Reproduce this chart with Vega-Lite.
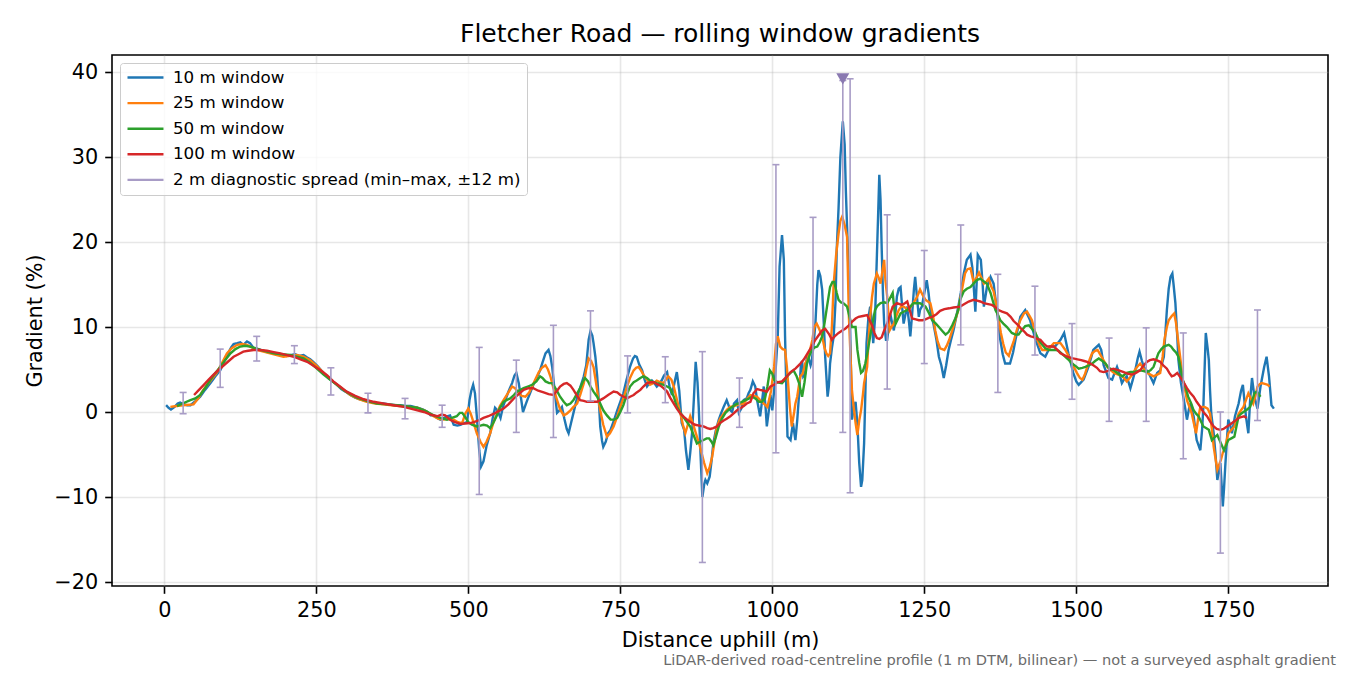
{
  "$schema": "https://vega.github.io/schema/vega-lite/v6.json",
  "width": 1216,
  "height": 531,
  "autosize": {"type": "none"},
  "padding": {"left": 112, "top": 55, "right": 22, "bottom": 89},
  "background": "#ffffff",
  "config": {
    "font": "DejaVu Sans",
    "view": {"stroke": "#000000", "strokeWidth": 1.6},
    "axis": {"domain": false, "grid": true, "gridColor": "#b0b0b0", "gridOpacity": 0.3, "gridWidth": 1.6, "tickColor": "#000000", "tickSize": 7.3, "tickWidth": 1.6, "labelFont": "DejaVu Sans", "labelFontSize": 20.8, "labelColor": "#000000", "labelPadding": 7, "titleFont": "DejaVu Sans", "titleFontSize": 20.8, "titleFontWeight": "normal", "titleColor": "#000000"}
  },
  "title": {"text": "Fletcher Road — rolling window gradients", "fontSize": 25, "fontWeight": "normal", "font": "DejaVu Sans", "color": "#000000", "anchor": "middle", "frame": "group", "offset": 12.5, "baseline": "alphabetic", "dy": 24},
  "datasets": {
    "w10": [{"d":3,"g":0.8},{"d":7,"g":0.5},{"d":11,"g":0.3},{"d":17,"g":0.6},{"d":22,"g":1.0},{"d":26,"g":1.1},{"d":32,"g":0.9},{"d":38,"g":0.8},{"d":43,"g":0.8},{"d":50,"g":1.2},{"d":59,"g":1.8},{"d":67,"g":2.6},{"d":76,"g":3.4},{"d":84,"g":4.2},{"d":92,"g":4.9},{"d":99,"g":6.0},{"d":105,"g":6.9},{"d":110,"g":7.6},{"d":114,"g":8.0},{"d":120,"g":8.1},{"d":125,"g":8.2},{"d":130,"g":7.9},{"d":136,"g":8.3},{"d":141,"g":8.1},{"d":147,"g":7.5},{"d":155,"g":7.4},{"d":163,"g":7.2},{"d":172,"g":7.0},{"d":180,"g":6.9},{"d":187,"g":6.8},{"d":195,"g":6.7},{"d":201,"g":6.6},{"d":207,"g":6.7},{"d":215,"g":6.8},{"d":222,"g":6.6},{"d":229,"g":6.7},{"d":235,"g":6.4},{"d":240,"g":6.2},{"d":245,"g":5.9},{"d":252,"g":5.4},{"d":258,"g":4.9},{"d":262,"g":4.6},{"d":270,"g":4.0},{"d":277,"g":3.6},{"d":284,"g":3.2},{"d":291,"g":2.7},{"d":298,"g":2.4},{"d":306,"g":2.0},{"d":314,"g":1.7},{"d":322,"g":1.5},{"d":333,"g":1.3},{"d":342,"g":1.2},{"d":350,"g":1.0},{"d":360,"g":1.0},{"d":370,"g":0.9},{"d":380,"g":0.8},{"d":388,"g":0.8},{"d":396,"g":0.7},{"d":405,"g":0.7},{"d":416,"g":0.5},{"d":425,"g":0.3},{"d":433,"g":0.0},{"d":438,"g":-0.4},{"d":443,"g":-0.4},{"d":449,"g":-0.7},{"d":454,"g":-0.9},{"d":460,"g":-0.7},{"d":465,"g":-0.5},{"d":470,"g":-0.4},{"d":476,"g":-1.5},{"d":482,"g":-1.6},{"d":487,"g":-1.5},{"d":493,"g":-1.3},{"d":498,"g":-1.2},{"d":502,"g":1.4},{"d":505,"g":2.5},{"d":508,"g":3.2},{"d":511,"g":2.2},{"d":514,"g":-0.5},{"d":518,"g":-4.5},{"d":521,"g":-6.4},{"d":525,"g":-5.8},{"d":530,"g":-4.0},{"d":536,"g":-2.5},{"d":540,"g":-0.8},{"d":544,"g":0.5},{"d":548,"g":0.2},{"d":553,"g":-0.7},{"d":557,"g":0.6},{"d":561,"g":1.4},{"d":566,"g":2.4},{"d":572,"g":3.4},{"d":576,"g":4.3},{"d":579,"g":4.6},{"d":583,"g":3.4},{"d":587,"g":1.5},{"d":590,"g":0.0},{"d":594,"g":0.8},{"d":597,"g":1.4},{"d":602,"g":2.3},{"d":607,"g":3.2},{"d":612,"g":3.9},{"d":618,"g":4.9},{"d":622,"g":5.8},{"d":627,"g":6.9},{"d":632,"g":7.3},{"d":635,"g":6.6},{"d":638,"g":5.3},{"d":642,"g":2.5},{"d":646,"g":-0.1},{"d":650,"g":0.2},{"d":654,"g":0.6},{"d":658,"g":-0.8},{"d":662,"g":-2.0},{"d":665,"g":-2.5},{"d":669,"g":-1.3},{"d":673,"g":-0.1},{"d":677,"g":1.1},{"d":681,"g":2.2},{"d":686,"g":3.3},{"d":690,"g":4.2},{"d":694,"g":5.5},{"d":698,"g":8.5},{"d":701,"g":9.5},{"d":704,"g":9.0},{"d":706,"g":8.1},{"d":709,"g":6.5},{"d":712,"g":4.2},{"d":715,"g":1.0},{"d":717,"g":-1.7},{"d":720,"g":-3.4},{"d":722,"g":-4.1},{"d":726,"g":-3.5},{"d":730,"g":-2.5},{"d":734,"g":-2.1},{"d":740,"g":-0.9},{"d":745,"g":0.2},{"d":750,"g":1.2},{"d":755,"g":2.2},{"d":760,"g":3.7},{"d":766,"g":5.3},{"d":771,"g":6.3},{"d":774,"g":6.6},{"d":777,"g":6.5},{"d":781,"g":5.6},{"d":786,"g":4.9},{"d":790,"g":3.8},{"d":794,"g":3.0},{"d":798,"g":3.4},{"d":802,"g":3.7},{"d":806,"g":3.4},{"d":810,"g":3.0},{"d":814,"g":3.3},{"d":818,"g":3.7},{"d":822,"g":4.3},{"d":827,"g":4.7},{"d":831,"g":3.0},{"d":835,"g":2.0},{"d":839,"g":3.4},{"d":843,"g":4.7},{"d":847,"g":2.5},{"d":851,"g":-1.3},{"d":855,"g":-2.1},{"d":858,"g":-4.5},{"d":862,"g":-6.8},{"d":865,"g":-4.8},{"d":868,"g":-2.5},{"d":871,"g":1.5},{"d":874,"g":5.9},{"d":877,"g":3.5},{"d":879,"g":0.6},{"d":882,"g":-5.0},{"d":885,"g":-10.0},{"d":888,"g":-8.5},{"d":890,"g":-8.0},{"d":893,"g":-8.4},{"d":897,"g":-7.6},{"d":900,"g":-5.8},{"d":903,"g":-3.7},{"d":907,"g":-2.2},{"d":912,"g":-0.9},{"d":916,"g":-0.1},{"d":920,"g":0.6},{"d":925,"g":1.4},{"d":928,"g":0.8},{"d":931,"g":0.2},{"d":934,"g":0.0},{"d":937,"g":1.0},{"d":942,"g":1.4},{"d":945,"g":-0.1},{"d":949,"g":0.4},{"d":953,"g":1.4},{"d":958,"g":1.6},{"d":961,"g":2.2},{"d":964,"g":2.6},{"d":968,"g":3.6},{"d":972,"g":3.0},{"d":975,"g":1.4},{"d":980,"g":-0.5},{"d":983,"g":1.2},{"d":986,"g":3.0},{"d":989,"g":0.5},{"d":991,"g":-1.7},{"d":994,"g":0.0},{"d":997,"g":2.0},{"d":1000,"g":0.2},{"d":1003,"g":2.5},{"d":1006,"g":5.5},{"d":1009,"g":8.9},{"d":1012,"g":17.1},{"d":1016,"g":20.8},{"d":1019,"g":17.9},{"d":1021,"g":8.9},{"d":1025,"g":-2.9},{"d":1030,"g":-3.3},{"d":1034,"g":-1.3},{"d":1038,"g":-3.3},{"d":1041,"g":-1.0},{"d":1044,"g":2.0},{"d":1047,"g":5.5},{"d":1049,"g":6.0},{"d":1051,"g":4.2},{"d":1054,"g":4.5},{"d":1057,"g":6.5},{"d":1060,"g":6.3},{"d":1063,"g":5.5},{"d":1065,"g":6.0},{"d":1068,"g":8.0},{"d":1071,"g":10.5},{"d":1074,"g":15.0},{"d":1076,"g":16.7},{"d":1079,"g":16.0},{"d":1082,"g":14.4},{"d":1085,"g":10.0},{"d":1087,"g":6.5},{"d":1091,"g":1.8},{"d":1093,"g":3.0},{"d":1095,"g":5.7},{"d":1098,"g":7.5},{"d":1101,"g":8.9},{"d":1104,"g":13.0},{"d":1106,"g":19.1},{"d":1109,"g":24.0},{"d":1112,"g":30.0},{"d":1116,"g":34.2},{"d":1119,"g":31.5},{"d":1121,"g":26.0},{"d":1123,"g":21.8},{"d":1126,"g":15.0},{"d":1128,"g":10.0},{"d":1131,"g":-0.9},{"d":1134,"g":0.5},{"d":1137,"g":1.2},{"d":1140,"g":-1.5},{"d":1143,"g":-6.0},{"d":1146,"g":-8.8},{"d":1148,"g":-8.0},{"d":1151,"g":-3.7},{"d":1153,"g":2.0},{"d":1155,"g":8.1},{"d":1158,"g":11.0},{"d":1161,"g":12.4},{"d":1164,"g":10.5},{"d":1166,"g":8.1},{"d":1169,"g":11.0},{"d":1171,"g":15.9},{"d":1174,"g":23.0},{"d":1176,"g":27.9},{"d":1178,"g":25.0},{"d":1180,"g":19.1},{"d":1182,"g":14.0},{"d":1184,"g":10.4},{"d":1187,"g":8.5},{"d":1189,"g":8.5},{"d":1192,"g":10.5},{"d":1194,"g":11.6},{"d":1197,"g":10.5},{"d":1200,"g":9.6},{"d":1203,"g":12.0},{"d":1205,"g":13.6},{"d":1208,"g":14.5},{"d":1211,"g":14.7},{"d":1214,"g":12.0},{"d":1216,"g":10.4},{"d":1219,"g":11.5},{"d":1222,"g":12.4},{"d":1225,"g":10.5},{"d":1227,"g":8.9},{"d":1230,"g":11.5},{"d":1233,"g":14.5},{"d":1235,"g":15.9},{"d":1238,"g":13.5},{"d":1241,"g":11.2},{"d":1243,"g":12.0},{"d":1246,"g":12.4},{"d":1250,"g":14.0},{"d":1254,"g":15.5},{"d":1257,"g":14.0},{"d":1260,"g":12.0},{"d":1263,"g":11.0},{"d":1265,"g":10.4},{"d":1270,"g":8.5},{"d":1274,"g":6.5},{"d":1278,"g":5.5},{"d":1282,"g":4.0},{"d":1286,"g":5.5},{"d":1290,"g":7.3},{"d":1294,"g":8.5},{"d":1298,"g":9.6},{"d":1302,"g":11.0},{"d":1306,"g":12.4},{"d":1310,"g":14.0},{"d":1315,"g":16.3},{"d":1320,"g":17.9},{"d":1326,"g":18.5},{"d":1329,"g":17.0},{"d":1331,"g":15.1},{"d":1334,"g":11.8},{"d":1336,"g":15.0},{"d":1338,"g":18.5},{"d":1343,"g":17.9},{"d":1346,"g":15.0},{"d":1348,"g":12.4},{"d":1353,"g":14.7},{"d":1359,"g":15.9},{"d":1364,"g":15.1},{"d":1370,"g":11.6},{"d":1375,"g":8.5},{"d":1379,"g":6.8},{"d":1383,"g":5.7},{"d":1391,"g":5.7},{"d":1396,"g":7.0},{"d":1400,"g":8.5},{"d":1408,"g":11.2},{"d":1416,"g":12.0},{"d":1424,"g":10.8},{"d":1429,"g":9.5},{"d":1433,"g":8.5},{"d":1441,"g":6.9},{"d":1449,"g":6.5},{"d":1457,"g":7.7},{"d":1465,"g":7.7},{"d":1474,"g":8.5},{"d":1480,"g":9.3},{"d":1487,"g":6.9},{"d":1495,"g":4.6},{"d":1500,"g":3.6},{"d":1504,"g":3.2},{"d":1512,"g":3.8},{"d":1520,"g":5.3},{"d":1528,"g":7.3},{"d":1537,"g":7.9},{"d":1541,"g":7.3},{"d":1545,"g":5.5},{"d":1553,"g":4.0},{"d":1559,"g":3.8},{"d":1563,"g":4.6},{"d":1567,"g":5.3},{"d":1571,"g":4.5},{"d":1575,"g":3.4},{"d":1579,"g":3.9},{"d":1583,"g":4.2},{"d":1589,"g":2.8},{"d":1593,"g":3.8},{"d":1597,"g":4.9},{"d":1601,"g":6.3},{"d":1604,"g":7.1},{"d":1608,"g":6.0},{"d":1611,"g":5.3},{"d":1619,"g":4.6},{"d":1623,"g":4.0},{"d":1627,"g":3.4},{"d":1633,"g":4.6},{"d":1638,"g":4.9},{"d":1644,"g":6.5},{"d":1649,"g":12.0},{"d":1652,"g":14.5},{"d":1655,"g":15.9},{"d":1658,"g":16.3},{"d":1660,"g":15.0},{"d":1663,"g":12.8},{"d":1666,"g":9.0},{"d":1668,"g":6.1},{"d":1672,"g":3.5},{"d":1675,"g":2.2},{"d":1679,"g":0.5},{"d":1682,"g":-0.9},{"d":1687,"g":1.0},{"d":1693,"g":-0.5},{"d":1698,"g":-3.3},{"d":1704,"g":-4.5},{"d":1707,"g":-2.0},{"d":1709,"g":0.6},{"d":1713,"g":9.3},{"d":1716,"g":7.5},{"d":1718,"g":6.1},{"d":1720,"g":2.5},{"d":1722,"g":-0.2},{"d":1726,"g":-2.5},{"d":1729,"g":-5.0},{"d":1732,"g":-8.0},{"d":1735,"g":-6.8},{"d":1737,"g":-6.0},{"d":1739,"g":-8.5},{"d":1741,"g":-11.1},{"d":1743,"g":-9.0},{"d":1745,"g":-6.4},{"d":1748,"g":-3.0},{"d":1750,"g":-0.9},{"d":1753,"g":-1.5},{"d":1756,"g":-2.5},{"d":1761,"g":-0.5},{"d":1767,"g":1.0},{"d":1771,"g":2.5},{"d":1774,"g":3.2},{"d":1777,"g":1.0},{"d":1779,"g":-0.5},{"d":1783,"g":-2.5},{"d":1786,"g":1.5},{"d":1789,"g":4.0},{"d":1793,"g":1.8},{"d":1798,"g":0.4},{"d":1803,"g":3.0},{"d":1809,"g":5.3},{"d":1813,"g":6.5},{"d":1817,"g":4.2},{"d":1821,"g":0.8},{"d":1825,"g":0.4}],
    "w25": [{"d":10,"g":0.6},{"d":20,"g":0.7},{"d":31,"g":0.8},{"d":48,"g":0.9},{"d":56,"g":1.6},{"d":64,"g":2.6},{"d":75,"g":3.6},{"d":87,"g":4.7},{"d":95,"g":5.8},{"d":103,"g":6.9},{"d":111,"g":7.5},{"d":120,"g":7.9},{"d":128,"g":8.0},{"d":136,"g":7.9},{"d":144,"g":7.6},{"d":152,"g":7.3},{"d":163,"g":7.1},{"d":174,"g":6.9},{"d":185,"g":6.7},{"d":196,"g":6.5},{"d":207,"g":6.6},{"d":218,"g":6.7},{"d":229,"g":6.5},{"d":240,"g":6.1},{"d":251,"g":5.4},{"d":262,"g":4.6},{"d":273,"g":3.9},{"d":284,"g":3.2},{"d":295,"g":2.6},{"d":306,"g":2.0},{"d":320,"g":1.5},{"d":333,"g":1.2},{"d":347,"g":1.0},{"d":360,"g":0.9},{"d":374,"g":0.8},{"d":388,"g":0.7},{"d":402,"g":0.6},{"d":416,"g":0.5},{"d":430,"g":0.1},{"d":443,"g":-0.5},{"d":451,"g":-0.8},{"d":459,"g":-0.9},{"d":467,"g":-0.8},{"d":476,"g":-0.9},{"d":483,"g":-1.2},{"d":490,"g":-1.3},{"d":495,"g":-0.2},{"d":500,"g":0.4},{"d":504,"g":-0.2},{"d":509,"g":-1.3},{"d":514,"g":-2.5},{"d":520,"g":-3.5},{"d":525,"g":-4.1},{"d":530,"g":-3.5},{"d":536,"g":-2.5},{"d":541,"g":-1.3},{"d":547,"g":-0.2},{"d":552,"g":0.7},{"d":558,"g":1.4},{"d":565,"g":2.2},{"d":572,"g":3.0},{"d":577,"g":2.8},{"d":583,"g":2.2},{"d":588,"g":1.9},{"d":594,"g":1.8},{"d":600,"g":2.3},{"d":605,"g":3.0},{"d":610,"g":3.8},{"d":616,"g":4.7},{"d":621,"g":5.2},{"d":627,"g":5.5},{"d":631,"g":5.0},{"d":635,"g":4.2},{"d":640,"g":2.8},{"d":646,"g":1.4},{"d":651,"g":0.3},{"d":657,"g":-0.4},{"d":662,"g":-0.2},{"d":668,"g":0.2},{"d":673,"g":0.6},{"d":679,"g":1.0},{"d":684,"g":2.0},{"d":690,"g":3.4},{"d":694,"g":5.0},{"d":698,"g":6.3},{"d":702,"g":6.0},{"d":706,"g":5.3},{"d":710,"g":3.5},{"d":714,"g":1.5},{"d":717,"g":0.2},{"d":722,"g":-1.5},{"d":728,"g":-2.9},{"d":733,"g":-2.5},{"d":739,"g":-1.7},{"d":745,"g":-0.5},{"d":750,"g":0.6},{"d":756,"g":1.8},{"d":761,"g":3.0},{"d":766,"g":4.0},{"d":772,"g":4.9},{"d":776,"g":5.2},{"d":780,"g":5.3},{"d":784,"g":4.9},{"d":788,"g":4.4},{"d":794,"g":3.8},{"d":799,"g":3.2},{"d":805,"g":3.4},{"d":810,"g":3.7},{"d":816,"g":3.5},{"d":821,"g":3.4},{"d":825,"g":3.8},{"d":829,"g":4.2},{"d":834,"g":3.8},{"d":838,"g":3.0},{"d":843,"g":1.5},{"d":849,"g":-0.2},{"d":853,"g":-1.5},{"d":857,"g":-2.5},{"d":861,"g":-1.5},{"d":865,"g":-0.5},{"d":870,"g":-1.5},{"d":876,"g":-2.9},{"d":880,"g":-3.8},{"d":884,"g":-4.9},{"d":888,"g":-6.0},{"d":893,"g":-7.2},{"d":897,"g":-6.5},{"d":901,"g":-5.3},{"d":905,"g":-3.5},{"d":909,"g":-1.7},{"d":914,"g":-0.8},{"d":920,"g":-0.2},{"d":926,"g":0.3},{"d":931,"g":0.6},{"d":937,"g":0.7},{"d":942,"g":0.8},{"d":948,"g":0.9},{"d":953,"g":1.0},{"d":958,"g":1.5},{"d":964,"g":2.0},{"d":970,"g":1.9},{"d":975,"g":1.8},{"d":980,"g":1.4},{"d":986,"g":1.0},{"d":992,"g":0.6},{"d":998,"g":2.5},{"d":1003,"g":5.3},{"d":1006,"g":8.0},{"d":1009,"g":8.9},{"d":1013,"g":7.7},{"d":1017,"g":7.4},{"d":1021,"g":7.3},{"d":1024,"g":5.3},{"d":1026,"g":3.4},{"d":1029,"g":0.5},{"d":1032,"g":-1.7},{"d":1036,"g":0.0},{"d":1038,"g":1.0},{"d":1041,"g":1.8},{"d":1046,"g":4.2},{"d":1050,"g":4.5},{"d":1054,"g":5.7},{"d":1058,"g":6.2},{"d":1062,"g":7.3},{"d":1066,"g":8.5},{"d":1069,"g":10.0},{"d":1073,"g":10.4},{"d":1077,"g":9.8},{"d":1082,"g":8.9},{"d":1086,"g":7.5},{"d":1089,"g":6.9},{"d":1092,"g":6.6},{"d":1095,"g":6.9},{"d":1098,"g":10.0},{"d":1101,"g":15.1},{"d":1105,"g":18.5},{"d":1109,"g":21.0},{"d":1112,"g":22.5},{"d":1115,"g":23.0},{"d":1119,"g":22.0},{"d":1123,"g":20.6},{"d":1126,"g":11.2},{"d":1129,"g":6.0},{"d":1131,"g":2.6},{"d":1134,"g":0.5},{"d":1137,"g":-1.3},{"d":1140,"g":-2.7},{"d":1143,"g":-1.0},{"d":1146,"g":0.2},{"d":1149,"g":2.0},{"d":1151,"g":3.4},{"d":1156,"g":5.3},{"d":1158,"g":8.0},{"d":1161,"g":11.2},{"d":1164,"g":13.5},{"d":1167,"g":15.1},{"d":1172,"g":16.3},{"d":1175,"g":15.8},{"d":1178,"g":15.1},{"d":1181,"g":16.5},{"d":1184,"g":17.9},{"d":1186,"g":15.5},{"d":1189,"g":13.6},{"d":1193,"g":9.6},{"d":1196,"g":10.0},{"d":1200,"g":10.4},{"d":1204,"g":11.3},{"d":1208,"g":12.0},{"d":1212,"g":12.4},{"d":1216,"g":12.4},{"d":1220,"g":12.2},{"d":1224,"g":12.0},{"d":1228,"g":12.4},{"d":1232,"g":12.8},{"d":1238,"g":13.5},{"d":1243,"g":14.4},{"d":1247,"g":13.8},{"d":1252,"g":13.2},{"d":1256,"g":13.0},{"d":1260,"g":12.8},{"d":1264,"g":11.5},{"d":1268,"g":9.6},{"d":1272,"g":8.3},{"d":1276,"g":7.5},{"d":1283,"g":7.3},{"d":1287,"g":7.8},{"d":1291,"g":8.5},{"d":1296,"g":9.6},{"d":1301,"g":10.8},{"d":1306,"g":12.0},{"d":1309,"g":13.2},{"d":1313,"g":14.8},{"d":1317,"g":16.3},{"d":1321,"g":16.8},{"d":1326,"g":16.9},{"d":1331,"g":15.3},{"d":1336,"g":15.8},{"d":1340,"g":16.4},{"d":1344,"g":15.8},{"d":1348,"g":15.1},{"d":1352,"g":15.3},{"d":1356,"g":15.7},{"d":1360,"g":14.8},{"d":1364,"g":14.2},{"d":1368,"g":12.8},{"d":1372,"g":11.0},{"d":1376,"g":9.3},{"d":1380,"g":8.0},{"d":1384,"g":7.0},{"d":1389,"g":6.6},{"d":1393,"g":7.5},{"d":1397,"g":8.3},{"d":1402,"g":9.6},{"d":1408,"g":10.8},{"d":1414,"g":11.6},{"d":1419,"g":11.8},{"d":1424,"g":11.2},{"d":1427,"g":10.8},{"d":1432,"g":9.5},{"d":1436,"g":8.5},{"d":1440,"g":7.8},{"d":1444,"g":7.3},{"d":1452,"g":7.3},{"d":1458,"g":7.7},{"d":1463,"g":8.1},{"d":1469,"g":8.1},{"d":1474,"g":8.1},{"d":1482,"g":7.3},{"d":1491,"g":6.1},{"d":1496,"g":5.3},{"d":1501,"g":4.6},{"d":1506,"g":4.0},{"d":1510,"g":3.8},{"d":1514,"g":4.4},{"d":1518,"g":5.3},{"d":1522,"g":6.2},{"d":1526,"g":6.9},{"d":1531,"g":7.2},{"d":1535,"g":7.3},{"d":1539,"g":6.8},{"d":1543,"g":6.3},{"d":1551,"g":5.3},{"d":1557,"g":4.9},{"d":1562,"g":4.6},{"d":1569,"g":4.4},{"d":1576,"g":4.2},{"d":1583,"g":3.6},{"d":1589,"g":4.1},{"d":1594,"g":4.7},{"d":1600,"g":5.3},{"d":1605,"g":5.7},{"d":1611,"g":5.1},{"d":1616,"g":4.6},{"d":1622,"g":4.4},{"d":1627,"g":4.2},{"d":1633,"g":4.4},{"d":1638,"g":4.6},{"d":1642,"g":6.5},{"d":1645,"g":8.5},{"d":1649,"g":10.0},{"d":1652,"g":10.8},{"d":1657,"g":11.3},{"d":1661,"g":11.6},{"d":1664,"g":10.5},{"d":1668,"g":8.1},{"d":1672,"g":5.8},{"d":1675,"g":3.8},{"d":1679,"g":2.6},{"d":1682,"g":1.4},{"d":1686,"g":0.6},{"d":1690,"g":-0.2},{"d":1693,"g":-1.2},{"d":1697,"g":-2.5},{"d":1700,"g":-1.0},{"d":1704,"g":0.6},{"d":1711,"g":0.6},{"d":1716,"g":0.4},{"d":1720,"g":-0.2},{"d":1723,"g":-2.0},{"d":1726,"g":-4.1},{"d":1729,"g":-5.5},{"d":1732,"g":-6.8},{"d":1735,"g":-6.2},{"d":1738,"g":-5.6},{"d":1741,"g":-4.8},{"d":1745,"g":-4.1},{"d":1750,"g":-2.5},{"d":1755,"g":-2.1},{"d":1760,"g":-1.7},{"d":1764,"g":-0.9},{"d":1767,"g":-0.2},{"d":1771,"g":0.2},{"d":1775,"g":0.6},{"d":1779,"g":1.4},{"d":1783,"g":2.2},{"d":1787,"g":1.6},{"d":1791,"g":1.0},{"d":1795,"g":2.0},{"d":1798,"g":3.0},{"d":1802,"g":3.3},{"d":1805,"g":3.4},{"d":1810,"g":3.3},{"d":1815,"g":3.2},{"d":1818,"g":3.0}],
    "w50": [{"d":21,"g":0.7},{"d":30,"g":1.0},{"d":43,"g":1.4},{"d":51,"g":1.6},{"d":59,"g":2.0},{"d":67,"g":2.8},{"d":76,"g":3.8},{"d":84,"g":4.6},{"d":92,"g":5.3},{"d":100,"g":6.1},{"d":109,"g":6.9},{"d":117,"g":7.4},{"d":125,"g":7.7},{"d":133,"g":7.8},{"d":141,"g":7.7},{"d":150,"g":7.5},{"d":158,"g":7.3},{"d":169,"g":7.1},{"d":180,"g":6.9},{"d":193,"g":6.8},{"d":207,"g":6.7},{"d":218,"g":6.5},{"d":229,"g":6.3},{"d":240,"g":5.8},{"d":251,"g":5.1},{"d":262,"g":4.4},{"d":273,"g":3.8},{"d":284,"g":3.2},{"d":295,"g":2.6},{"d":306,"g":2.1},{"d":317,"g":1.7},{"d":333,"g":1.3},{"d":350,"g":1.0},{"d":366,"g":0.9},{"d":383,"g":0.8},{"d":400,"g":0.65},{"d":416,"g":0.5},{"d":430,"g":0.1},{"d":443,"g":-0.4},{"d":454,"g":-0.7},{"d":465,"g":-0.9},{"d":473,"g":-0.7},{"d":481,"g":-0.5},{"d":486,"g":-0.1},{"d":490,"g":-0.1},{"d":495,"g":-0.6},{"d":500,"g":-1.2},{"d":506,"g":-1.5},{"d":514,"g":-1.7},{"d":520,"g":-1.6},{"d":525,"g":-1.5},{"d":531,"g":-1.6},{"d":536,"g":-1.9},{"d":541,"g":-1.3},{"d":547,"g":-0.4},{"d":552,"g":0.5},{"d":558,"g":1.2},{"d":563,"g":1.4},{"d":569,"g":1.6},{"d":575,"g":2.0},{"d":580,"g":2.4},{"d":586,"g":2.6},{"d":591,"g":2.8},{"d":598,"g":3.0},{"d":605,"g":3.2},{"d":612,"g":3.6},{"d":618,"g":4.2},{"d":622,"g":4.0},{"d":627,"g":3.6},{"d":633,"g":3.4},{"d":638,"g":3.4},{"d":645,"g":2.6},{"d":651,"g":1.8},{"d":657,"g":1.2},{"d":662,"g":0.8},{"d":668,"g":1.0},{"d":673,"g":1.4},{"d":679,"g":2.2},{"d":684,"g":2.8},{"d":688,"g":3.5},{"d":692,"g":4.0},{"d":697,"g":3.6},{"d":701,"g":3.0},{"d":706,"g":2.4},{"d":712,"g":1.8},{"d":717,"g":1.0},{"d":722,"g":0.2},{"d":728,"g":-0.4},{"d":734,"g":-0.9},{"d":740,"g":-0.9},{"d":745,"g":-0.7},{"d":750,"g":0.0},{"d":755,"g":0.8},{"d":760,"g":1.9},{"d":766,"g":3.0},{"d":772,"g":3.5},{"d":777,"g":3.7},{"d":783,"g":4.0},{"d":788,"g":4.2},{"d":794,"g":4.0},{"d":799,"g":3.7},{"d":805,"g":3.5},{"d":810,"g":3.4},{"d":816,"g":3.3},{"d":821,"g":3.2},{"d":827,"g":3.0},{"d":832,"g":2.8},{"d":838,"g":1.8},{"d":843,"g":0.6},{"d":849,"g":-0.1},{"d":855,"g":-0.7},{"d":860,"g":-1.2},{"d":865,"g":-1.7},{"d":871,"g":-2.8},{"d":876,"g":-3.7},{"d":881,"g":-3.5},{"d":887,"g":-3.3},{"d":892,"g":-3.1},{"d":896,"g":-3.1},{"d":900,"g":-3.5},{"d":903,"g":-3.9},{"d":907,"g":-3.0},{"d":912,"g":-1.7},{"d":917,"g":-0.8},{"d":923,"g":-0.1},{"d":929,"g":0.3},{"d":934,"g":0.6},{"d":940,"g":0.9},{"d":945,"g":1.0},{"d":950,"g":1.2},{"d":956,"g":1.4},{"d":962,"g":1.6},{"d":967,"g":1.8},{"d":972,"g":1.6},{"d":978,"g":1.2},{"d":983,"g":1.2},{"d":988,"g":1.6},{"d":992,"g":3.0},{"d":996,"g":4.9},{"d":1000,"g":4.5},{"d":1003,"g":3.8},{"d":1008,"g":3.5},{"d":1016,"g":3.4},{"d":1020,"g":3.7},{"d":1024,"g":4.2},{"d":1030,"g":4.6},{"d":1035,"g":4.9},{"d":1040,"g":4.2},{"d":1044,"g":3.4},{"d":1049,"g":1.8},{"d":1053,"g":3.5},{"d":1057,"g":5.7},{"d":1061,"g":6.6},{"d":1065,"g":7.3},{"d":1070,"g":7.6},{"d":1074,"g":7.7},{"d":1078,"g":8.2},{"d":1082,"g":8.9},{"d":1086,"g":10.5},{"d":1090,"g":12.4},{"d":1095,"g":14.7},{"d":1099,"g":15.3},{"d":1102,"g":15.3},{"d":1106,"g":14.0},{"d":1109,"g":13.2},{"d":1113,"g":12.9},{"d":1117,"g":12.8},{"d":1120,"g":12.6},{"d":1123,"g":12.4},{"d":1127,"g":11.2},{"d":1131,"g":10.0},{"d":1137,"g":10.0},{"d":1140,"g":7.3},{"d":1143,"g":5.8},{"d":1146,"g":4.6},{"d":1149,"g":4.8},{"d":1153,"g":5.7},{"d":1157,"g":7.2},{"d":1161,"g":8.9},{"d":1165,"g":10.5},{"d":1169,"g":12.0},{"d":1173,"g":12.5},{"d":1178,"g":12.8},{"d":1184,"g":12.9},{"d":1189,"g":12.8},{"d":1193,"g":13.3},{"d":1198,"g":14.0},{"d":1201,"g":12.0},{"d":1203,"g":10.4},{"d":1207,"g":11.0},{"d":1211,"g":11.6},{"d":1216,"g":11.8},{"d":1222,"g":12.0},{"d":1227,"g":12.4},{"d":1232,"g":12.8},{"d":1238,"g":12.8},{"d":1243,"g":12.8},{"d":1248,"g":12.6},{"d":1252,"g":12.4},{"d":1258,"g":11.6},{"d":1263,"g":10.8},{"d":1269,"g":10.4},{"d":1274,"g":10.0},{"d":1280,"g":9.5},{"d":1285,"g":9.1},{"d":1290,"g":9.4},{"d":1296,"g":10.2},{"d":1301,"g":11.0},{"d":1306,"g":12.0},{"d":1309,"g":13.2},{"d":1315,"g":14.2},{"d":1320,"g":14.5},{"d":1326,"g":14.7},{"d":1331,"g":15.1},{"d":1336,"g":15.5},{"d":1342,"g":15.7},{"d":1347,"g":15.4},{"d":1353,"g":15.1},{"d":1359,"g":14.0},{"d":1363,"g":13.0},{"d":1367,"g":12.0},{"d":1370,"g":11.6},{"d":1375,"g":10.8},{"d":1380,"g":10.4},{"d":1386,"g":10.0},{"d":1394,"g":9.3},{"d":1400,"g":9.1},{"d":1405,"g":9.1},{"d":1410,"g":9.6},{"d":1416,"g":10.1},{"d":1422,"g":10.2},{"d":1427,"g":9.8},{"d":1432,"g":9.4},{"d":1438,"g":8.5},{"d":1443,"g":8.0},{"d":1449,"g":7.5},{"d":1455,"g":7.3},{"d":1460,"g":7.3},{"d":1466,"g":7.3},{"d":1471,"g":7.2},{"d":1477,"g":6.8},{"d":1482,"g":6.5},{"d":1488,"g":6.1},{"d":1493,"g":5.7},{"d":1499,"g":5.4},{"d":1504,"g":5.1},{"d":1510,"g":5.2},{"d":1515,"g":5.3},{"d":1521,"g":5.5},{"d":1526,"g":5.7},{"d":1531,"g":6.0},{"d":1537,"g":6.3},{"d":1543,"g":6.0},{"d":1548,"g":5.7},{"d":1553,"g":5.2},{"d":1562,"g":4.9},{"d":1569,"g":4.5},{"d":1576,"g":4.2},{"d":1583,"g":4.6},{"d":1589,"g":4.7},{"d":1594,"g":4.7},{"d":1600,"g":4.8},{"d":1605,"g":4.9},{"d":1611,"g":4.8},{"d":1616,"g":4.7},{"d":1622,"g":4.9},{"d":1627,"g":5.3},{"d":1631,"g":6.1},{"d":1635,"g":6.9},{"d":1640,"g":7.4},{"d":1644,"g":7.7},{"d":1648,"g":7.8},{"d":1652,"g":7.9},{"d":1656,"g":7.7},{"d":1660,"g":7.3},{"d":1664,"g":7.0},{"d":1668,"g":6.5},{"d":1672,"g":5.0},{"d":1675,"g":3.8},{"d":1680,"g":2.8},{"d":1684,"g":1.8},{"d":1689,"g":1.0},{"d":1693,"g":0.2},{"d":1697,"g":-0.2},{"d":1701,"g":-0.5},{"d":1705,"g":-1.1},{"d":1709,"g":-1.7},{"d":1714,"g":-1.9},{"d":1718,"g":-2.1},{"d":1723,"g":-3.3},{"d":1727,"g":-3.0},{"d":1732,"g":-2.7},{"d":1735,"g":-3.2},{"d":1738,"g":-3.7},{"d":1743,"g":-4.5},{"d":1746,"g":-4.0},{"d":1750,"g":-3.3},{"d":1755,"g":-3.1},{"d":1760,"g":-2.9},{"d":1764,"g":-1.5},{"d":1767,"g":-0.5},{"d":1771,"g":-0.2},{"d":1775,"g":0.0},{"d":1781,"g":0.3},{"d":1786,"g":0.6},{"d":1790,"g":1.5},{"d":1793,"g":2.2},{"d":1797,"g":2.4},{"d":1800,"g":2.1},{"d":1803,"g":1.8}],
    "w100": [{"d":49,"g":2.0},{"d":57,"g":2.6},{"d":65,"g":3.2},{"d":73,"g":3.8},{"d":81,"g":4.4},{"d":90,"g":5.0},{"d":98,"g":5.5},{"d":106,"g":6.0},{"d":114,"g":6.5},{"d":122,"g":6.8},{"d":130,"g":7.1},{"d":138,"g":7.2},{"d":147,"g":7.3},{"d":158,"g":7.3},{"d":169,"g":7.2},{"d":180,"g":7.05},{"d":191,"g":6.9},{"d":202,"g":6.7},{"d":213,"g":6.5},{"d":224,"g":6.2},{"d":235,"g":5.9},{"d":246,"g":5.4},{"d":257,"g":4.9},{"d":268,"g":4.3},{"d":278,"g":3.6},{"d":289,"g":3.0},{"d":300,"g":2.4},{"d":314,"g":1.9},{"d":328,"g":1.5},{"d":344,"g":1.2},{"d":360,"g":1.0},{"d":377,"g":0.8},{"d":394,"g":0.6},{"d":410,"g":0.3},{"d":427,"g":0.0},{"d":438,"g":-0.3},{"d":449,"g":-0.5},{"d":456,"g":-0.3},{"d":462,"g":-0.4},{"d":470,"g":-0.9},{"d":478,"g":-1.2},{"d":487,"g":-1.4},{"d":495,"g":-1.35},{"d":503,"g":-1.3},{"d":509,"g":-1.2},{"d":517,"g":-1.0},{"d":525,"g":-0.7},{"d":533,"g":-0.5},{"d":542,"g":-0.2},{"d":550,"g":0.1},{"d":558,"g":0.4},{"d":566,"g":0.9},{"d":575,"g":1.6},{"d":583,"g":2.1},{"d":591,"g":2.6},{"d":599,"g":2.8},{"d":607,"g":2.8},{"d":615,"g":2.5},{"d":624,"g":2.3},{"d":632,"g":2.1},{"d":640,"g":2.0},{"d":646,"g":2.5},{"d":651,"g":3.0},{"d":657,"g":3.3},{"d":662,"g":3.4},{"d":668,"g":3.1},{"d":673,"g":2.6},{"d":679,"g":1.9},{"d":684,"g":1.4},{"d":690,"g":1.3},{"d":695,"g":1.2},{"d":703,"g":1.2},{"d":712,"g":1.2},{"d":717,"g":1.4},{"d":722,"g":1.6},{"d":730,"g":2.0},{"d":739,"g":2.4},{"d":745,"g":2.3},{"d":750,"g":2.0},{"d":756,"g":1.8},{"d":761,"g":1.6},{"d":766,"g":1.8},{"d":772,"g":2.0},{"d":777,"g":2.3},{"d":783,"g":2.6},{"d":788,"g":3.0},{"d":794,"g":3.4},{"d":800,"g":3.5},{"d":805,"g":3.5},{"d":810,"g":3.3},{"d":816,"g":3.1},{"d":821,"g":2.8},{"d":827,"g":2.4},{"d":832,"g":1.7},{"d":838,"g":1.0},{"d":843,"g":0.4},{"d":849,"g":-0.2},{"d":855,"g":-0.6},{"d":860,"g":-0.9},{"d":866,"g":-1.2},{"d":873,"g":-1.5},{"d":880,"g":-1.6},{"d":887,"g":-1.7},{"d":893,"g":-1.9},{"d":898,"g":-2.0},{"d":903,"g":-1.9},{"d":909,"g":-1.7},{"d":914,"g":-1.3},{"d":920,"g":-1.0},{"d":925,"g":-0.8},{"d":931,"g":-0.5},{"d":936,"g":-0.2},{"d":942,"g":0.2},{"d":947,"g":0.4},{"d":953,"g":0.7},{"d":958,"g":1.0},{"d":964,"g":1.2},{"d":969,"g":2.2},{"d":975,"g":2.7},{"d":980,"g":2.6},{"d":986,"g":2.5},{"d":991,"g":2.4},{"d":997,"g":3.0},{"d":1003,"g":3.2},{"d":1008,"g":3.5},{"d":1016,"g":3.6},{"d":1023,"g":4.1},{"d":1030,"g":4.7},{"d":1038,"g":5.1},{"d":1045,"g":5.6},{"d":1052,"g":6.2},{"d":1058,"g":6.9},{"d":1064,"g":7.6},{"d":1070,"g":8.4},{"d":1076,"g":9.0},{"d":1082,"g":9.6},{"d":1087,"g":9.8},{"d":1093,"g":9.2},{"d":1098,"g":8.5},{"d":1100,"g":8.7},{"d":1104,"g":9.0},{"d":1109,"g":9.3},{"d":1115,"g":9.6},{"d":1120,"g":9.8},{"d":1126,"g":10.2},{"d":1131,"g":10.6},{"d":1137,"g":11.0},{"d":1142,"g":11.2},{"d":1149,"g":11.3},{"d":1156,"g":11.4},{"d":1160,"g":10.8},{"d":1164,"g":10.2},{"d":1168,"g":9.3},{"d":1172,"g":8.7},{"d":1176,"g":8.6},{"d":1180,"g":8.8},{"d":1184,"g":9.6},{"d":1189,"g":10.4},{"d":1194,"g":11.5},{"d":1198,"g":12.4},{"d":1205,"g":12.8},{"d":1213,"g":12.6},{"d":1218,"g":12.8},{"d":1222,"g":13.0},{"d":1226,"g":12.0},{"d":1230,"g":11.0},{"d":1236,"g":10.9},{"d":1241,"g":10.8},{"d":1247,"g":10.8},{"d":1252,"g":10.9},{"d":1258,"g":11.1},{"d":1263,"g":11.2},{"d":1270,"g":11.5},{"d":1276,"g":11.9},{"d":1283,"g":12.1},{"d":1291,"g":12.2},{"d":1298,"g":12.3},{"d":1309,"g":12.4},{"d":1316,"g":12.7},{"d":1323,"g":13.0},{"d":1331,"g":13.2},{"d":1337,"g":13.1},{"d":1342,"g":13.0},{"d":1348,"g":12.8},{"d":1355,"g":12.7},{"d":1361,"g":12.6},{"d":1366,"g":12.4},{"d":1372,"g":12.0},{"d":1378,"g":11.8},{"d":1386,"g":11.6},{"d":1392,"g":11.2},{"d":1397,"g":10.7},{"d":1403,"g":10.3},{"d":1408,"g":9.9},{"d":1414,"g":9.5},{"d":1419,"g":9.1},{"d":1425,"g":8.9},{"d":1430,"g":8.8},{"d":1436,"g":8.6},{"d":1441,"g":8.5},{"d":1447,"g":8.0},{"d":1452,"g":7.7},{"d":1458,"g":7.7},{"d":1463,"g":7.7},{"d":1469,"g":7.3},{"d":1474,"g":6.9},{"d":1480,"g":6.7},{"d":1485,"g":6.5},{"d":1490,"g":6.4},{"d":1495,"g":6.3},{"d":1502,"g":6.2},{"d":1508,"g":6.1},{"d":1513,"g":6.0},{"d":1518,"g":5.9},{"d":1523,"g":5.7},{"d":1528,"g":5.5},{"d":1534,"g":5.2},{"d":1539,"g":4.8},{"d":1545,"g":4.7},{"d":1551,"g":4.8},{"d":1556,"g":5.0},{"d":1561,"g":5.1},{"d":1570,"g":4.9},{"d":1578,"g":4.7},{"d":1585,"g":4.5},{"d":1592,"g":4.4},{"d":1598,"g":4.6},{"d":1605,"g":4.9},{"d":1610,"g":5.4},{"d":1616,"g":5.9},{"d":1621,"g":6.1},{"d":1627,"g":6.2},{"d":1632,"g":6.1},{"d":1638,"g":5.9},{"d":1643,"g":5.5},{"d":1649,"g":5.1},{"d":1653,"g":4.6},{"d":1657,"g":4.2},{"d":1661,"g":4.3},{"d":1666,"g":4.6},{"d":1670,"g":4.2},{"d":1674,"g":3.8},{"d":1678,"g":3.3},{"d":1682,"g":2.8},{"d":1687,"g":2.3},{"d":1693,"g":1.8},{"d":1698,"g":1.2},{"d":1704,"g":0.6},{"d":1709,"g":0.0},{"d":1715,"g":-0.5},{"d":1720,"g":-1.1},{"d":1726,"g":-1.7},{"d":1731,"g":-2.0},{"d":1737,"g":-2.1},{"d":1742,"g":-2.0},{"d":1748,"g":-1.7},{"d":1754,"g":-1.4},{"d":1760,"g":-1.1},{"d":1764,"g":-0.9},{"d":1767,"g":-0.7},{"d":1771,"g":-0.6},{"d":1776,"g":-0.5},{"d":1780,"g":-0.7}],
    "spread": [{"d":31,"lo":-0.2,"g":2.3},{"d":92,"lo":2.9,"g":7.4},{"d":152,"lo":6.0,"g":8.9},{"d":214,"lo":5.7,"g":7.8},{"d":274,"lo":2.0,"g":5.2},{"d":335,"lo":-0.1,"g":2.2},{"d":396,"lo":-0.8,"g":1.6},{"d":457,"lo":-1.8,"g":0.8},{"d":518,"lo":-9.7,"g":7.6},{"d":579,"lo":-2.4,"g":6.1},{"d":640,"lo":-3.0,"g":10.2},{"d":701,"lo":1.3,"g":11.9},{"d":762,"lo":-0.1,"g":6.6},{"d":824,"lo":1.1,"g":6.5},{"d":885,"lo":-17.7,"g":7.1},{"d":946,"lo":-1.8,"g":4.0},{"d":1006,"lo":-4.8,"g":29.1},{"d":1067,"lo":-1.3,"g":22.9},{"d":1116,"lo":-2.4,"g":39.0},{"d":1128,"lo":-9.5,"g":39.2},{"d":1189,"lo":2.7,"g":23.2},{"d":1250,"lo":5.7,"g":19.0},{"d":1310,"lo":7.9,"g":22.0},{"d":1371,"lo":2.3,"g":16.2},{"d":1432,"lo":6.7,"g":14.8},{"d":1493,"lo":1.5,"g":10.4},{"d":1554,"lo":-1.1,"g":8.7},{"d":1615,"lo":-1.1,"g":9.9},{"d":1676,"lo":-5.5,"g":9.3},{"d":1737,"lo":-16.6,"g":0.0},{"d":1798,"lo":-1.0,"g":12.0}],
    "peak": [{"d":1116,"g":39.2}],
    "note": [{"text":"LiDAR-derived road-centreline profile (1 m DTM, bilinear) — not a surveyed asphalt gradient"}]
  },
  "layer": [
    {
      "encoding": {
        "x": {"field": "d", "type": "quantitative", "scale": {"domain": [-86, 1914], "nice": false, "zero": false},
          "axis": {"title": "Distance uphill (m)", "values": [0,250,500,750,1000,1250,1500,1750], "format": "d", "labelFlush": false, "labelOverlap": false, "titlePadding": 10}},
        "y": {"field": "g", "type": "quantitative", "scale": {"domain": [-20.47, 42.0], "nice": false, "zero": false},
          "axis": {"title": "Gradient (%)", "values": [-20,-10,0,10,20,30,40], "format": "d", "labelFlush": false, "labelOverlap": false, "titlePadding": 8}}
      },
      "layer": [
        {"data": {"name": "w10"}, "mark": {"type": "line", "strokeWidth": 2.4, "clip": true},
         "encoding": {"color": {"datum": "10 m window", "type": "nominal",
            "scale": {"domain": ["10 m window","25 m window","50 m window","100 m window","2 m diagnostic spread (min–max, ±12 m)"], "range": ["#1f77b4","#ff7f0e","#2ca02c","#d62728","#a89cc6"]},
            "legend": {"title": null, "orient": "none", "legendX": 8, "legendY": 8, "padding": 6, "fillColor": "rgba(255,255,255,0.8)", "strokeColor": "#cccccc", "cornerRadius": 3,
              "labelFont": "DejaVu Sans", "labelFontSize": 16.7, "labelColor": "#000000", "labelLimit": 600, "labelOffset": 30, "symbolSize": 196, "symbolStrokeWidth": 2.4, "rowPadding": 7.6, "symbolType": "M-1,0H4.14"}}}},
        {"data": {"name": "w25"}, "mark": {"type": "line", "strokeWidth": 2.4, "clip": true},
         "encoding": {"color": {"datum": "25 m window", "type": "nominal"}}},
        {"data": {"name": "w50"}, "mark": {"type": "line", "strokeWidth": 2.4, "clip": true},
         "encoding": {"color": {"datum": "50 m window", "type": "nominal"}}},
        {"data": {"name": "w100"}, "mark": {"type": "line", "strokeWidth": 2.4, "clip": true},
         "encoding": {"color": {"datum": "100 m window", "type": "nominal"}}},
        {"data": {"name": "spread"}, "mark": {"type": "rule", "strokeWidth": 1.6},
         "encoding": {"y2": {"field": "lo"}, "color": {"datum": "2 m diagnostic spread (min–max, ±12 m)", "type": "nominal"}}},
        {"data": {"name": "spread"}, "mark": {"type": "tick", "orient": "horizontal", "size": 7, "thickness": 1.6, "color": "#a89cc6", "opacity": 1}},
        {"data": {"name": "spread"}, "transform": [{"fold": ["lo"], "as": ["k", "g"]}], "mark": {"type": "tick", "orient": "horizontal", "size": 7, "thickness": 1.6, "color": "#a89cc6", "opacity": 1}},
        {"data": {"name": "peak"}, "mark": {"type": "point", "shape": "triangle-down", "filled": true, "size": 170, "color": "#8a79b1", "opacity": 1, "strokeWidth": 0}}
      ]
    },
    {"data": {"name": "note"}, "mark": {"type": "text", "align": "right", "baseline": "middle", "dx": 8, "font": "DejaVu Sans", "fontSize": 14.6, "color": "#6b6b6b"},
     "encoding": {"x": {"datum": 1914, "type": "quantitative"}, "y": {"datum": -29.3, "type": "quantitative"}, "text": {"field": "text"}}}
  ]
}
